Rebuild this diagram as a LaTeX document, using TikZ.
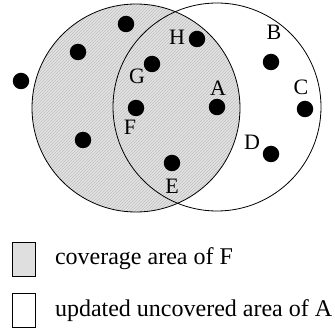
\documentclass[tikz,border=0pt]{standalone}
\usepackage{fontspec}
\setmainfont{Liberation Serif}
\usetikzlibrary{patterns}

\begin{document}
\begin{tikzpicture}[x=1pt,y=-1pt,every node/.style={outer sep=0pt,inner sep=0pt}]

	\tikzstyle{dot}=[circle,fill=black,minimum size=16.5pt]
	\tikzstyle{lbl}=[font=\fontsize{22}{24}\selectfont]
	\tikzstyle{legend}=[font=\fontsize{24}{26}\selectfont,anchor=base west]
	\tikzstyle{covered}=[fill=gray!22,postaction={pattern=north east lines,pattern color=gray!50}]

	\useasboundingbox (0,0) rectangle (335,331);

	% coverage areas
	\coordinate (cF) at (136,108);
	\coordinate (cA) at (217,107);
	\fill [covered] (cF) circle (104);
	\draw [line width=0.8pt] (cF) circle (104);
	\draw [line width=0.8pt] (cA) circle (104);

	% nodes
	\node (F) at (cF) [dot] {};
	\node (A) at (cA) [dot] {};
	\node (G) at (152,64) [dot] {};
	\node (H) at (197,39) [dot] {};
	\node (E) at (172,163) [dot] {};
	\node (B) at (271,62) [dot] {};
	\node (C) at (305,109) [dot] {};
	\node (D) at (271,154) [dot] {};
	\node (n1) at (126,24) [dot] {};
	\node (n2) at (78,52) [dot] {};
	\node (n3) at (21,81) [dot] {};
	\node (n4) at (83,140) [dot] {};

	\node (lH) at (177,37) [lbl] {H};
	\node (lG) at (137,76) [lbl] {G};
	\node (lF) at (130,127) [lbl] {F};
	\node (lA) at (218,88) [lbl] {A};
	\node (lE) at (172,186) [lbl] {E};
	\node (lB) at (274,32) [lbl] {B};
	\node (lC) at (301,87) [lbl] {C};
	\node (lD) at (252,142) [lbl] {D};

	% legend
	\draw [fill=gray!25,line width=0.7pt] (12,242) rectangle (35,276);
	\draw [line width=0.7pt] (12,293) rectangle (35,327);
	\node (t1) at (55,265) [legend] {coverage area of F};
	\node (t2) at (55,317) [legend] {updated uncovered area of A};

\end{tikzpicture}
\end{document}
